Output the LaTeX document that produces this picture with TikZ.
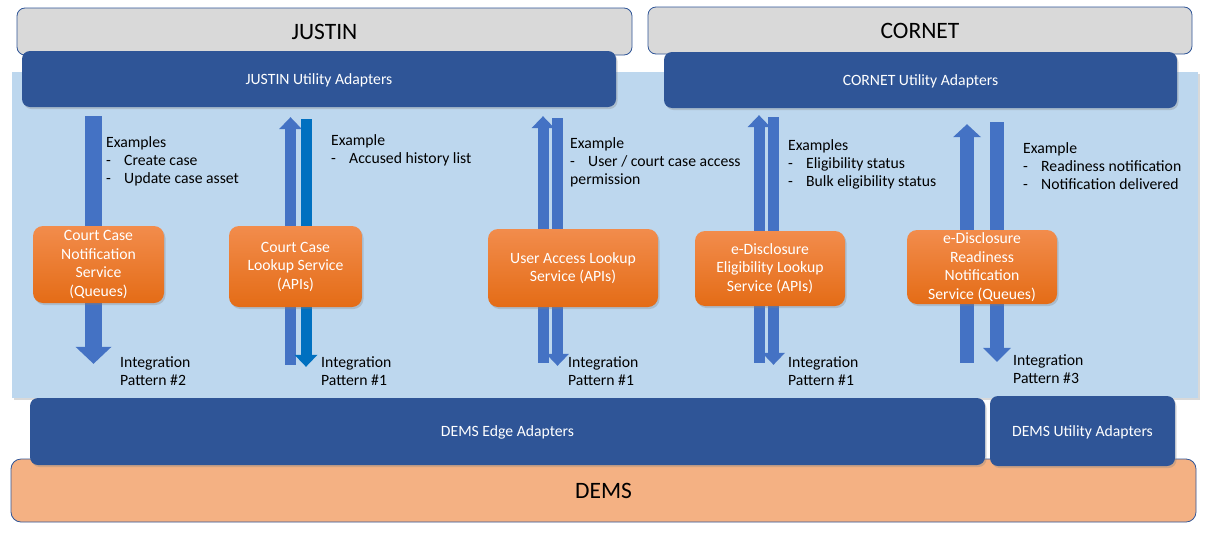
\documentclass[tikz,border=0pt]{standalone}
\usepackage{fontspec}
\setmainfont{Carlito}
\usepackage{xcolor}
\usetikzlibrary{arrows.meta,positioning,shadows,calc}
\definecolor{sysfill}{HTML}{D9D9D9}
\definecolor{sysline}{HTML}{2F5597}
\definecolor{adapterblue}{HTML}{2F5597}
\definecolor{zoneblue}{HTML}{BDD7EE}
\definecolor{demsfill}{HTML}{F4B183}
\definecolor{flowblue}{HTML}{4472C4}
\definecolor{flowdark}{HTML}{0070C0}
\definecolor{svctop}{RGB}{242,140,76}
\definecolor{svcbot}{RGB}{228,108,22}
\newcommand{\itm}{\makebox[18pt][l]{-}}
\tikzset{
	softshadow/.style={drop shadow={shadow xshift=1.5pt,shadow yshift=-2pt,opacity=0.3}},
	system/.style={draw=sysline,line width=0.8pt,fill=sysfill,rounded corners=8pt,inner sep=0pt,font=\fontsize{23.5}{27}\selectfont},
	adapter/.style={fill=adapterblue,rounded corners=8pt,inner sep=0pt,text=white,text depth=0pt,softshadow,font=\fontsize{15.7}{18}\selectfont},
	service/.style={top color=svctop,bottom color=svcbot,rounded corners=10pt,inner sep=0pt,text=white,align=center,softshadow,font=\fontsize{15.7}{18.5}\selectfont},
	note/.style={anchor=base west,align=left,inner sep=0pt,font=\fontsize{15.7}{18}\selectfont},
	upflow/.style={draw=flowblue,line width=11pt,-{Triangle[length=12pt,width=23pt,line width=0pt]}},
	downflow/.style={draw=flowblue,line width=11pt,-{Triangle[length=12pt,width=23pt,line width=0pt]}},
}
\begin{document}
\begin{tikzpicture}[x=1pt,y=-1pt]
	\useasboundingbox (0,0) rectangle (1209,533);
	% source and target systems
	\node[system,minimum width=615,minimum height=47] (justin) at (324.5,31.5) {JUSTIN};
	\node[system,minimum width=544,minimum height=47] (cornet) at (920,30.5) {CORNET};
	\node[system,fill=demsfill,rounded corners=10pt,minimum width=1185,minimum height=63] (dems) at (603.5,490.5) {DEMS};
	\node[fill=zoneblue,inner sep=0pt,minimum width=1186,minimum height=326,softshadow] (zone) at (605,235) {};
	% adapters
	\node[adapter,minimum width=594,minimum height=56] (jua) at (319,79) {JUSTIN Utility Adapters};
	\node[adapter,minimum width=513,minimum height=56] (cua) at (920.5,80) {CORNET Utility Adapters};
	\node[adapter,minimum width=955,minimum height=67] (edge) at (507.5,431.5) {DEMS Edge Adapters};
	\node[adapter,minimum width=185,minimum height=70] (dua) at (1082.5,431) {DEMS Utility Adapters};
	% service positions
	\coordinate (s1) at (98.5,264.5);
	\coordinate (s2) at (295.5,266.5);
	\coordinate (s3) at (573,268);
	\coordinate (s4) at (770,268.5);
	\coordinate (s5) at (982,267);
	% flows
	\draw[downflow,line width=17pt,-{Triangle[length=17pt,width=36pt,line width=0pt]},shorten <=9pt,shorten >=34pt] ([xshift=-5pt]s1 |- jua.south) -- ([xshift=-5pt]s1 |- edge.north);
	\draw[upflow,shorten <=33pt,shorten >=10pt] ([xshift=-5pt]s2 |- edge.north) -- ([xshift=-5pt]s2 |- jua.south);
	\draw[downflow,draw=flowdark,shorten <=12pt,shorten >=31pt] ([xshift=10.5pt]s2 |- jua.south) -- ([xshift=10.5pt]s2 |- edge.north);
	\draw[upflow,shorten <=35pt,shorten >=9pt] ([xshift=-30pt]s3 |- edge.north) -- ([xshift=-30pt]s3 |- jua.south);
	\draw[downflow,shorten <=11pt,shorten >=32pt] ([xshift=-15.5pt]s3 |- jua.south) -- ([xshift=-15.5pt]s3 |- edge.north);
	\draw[upflow,shorten <=35pt,shorten >=7pt] ([xshift=-11pt]s4 |- edge.north) -- ([xshift=-11pt]s4 |- cua.south);
	\draw[downflow,shorten <=9pt,shorten >=33pt] ([xshift=3.5pt]s4 |- cua.south) -- ([xshift=3.5pt]s4 |- edge.north);
	\draw[upflow,line width=14pt,-{Triangle[length=13pt,width=28pt,line width=0pt]},shorten <=35pt,shorten >=16pt] ([xshift=-15pt]s5 |- edge.north) -- ([xshift=-15pt]s5 |- cua.south);
	\draw[downflow,line width=14pt,-{Triangle[length=14pt,width=28pt,line width=0pt]},shorten <=14pt,shorten >=36pt] ([xshift=15pt]s5 |- cua.south) -- ([xshift=15pt]s5 |- edge.north);
	% services
	\node[service,minimum width=131,minimum height=77] (sv1) at (s1) {Court Case\\Notification\\Service\\(Queues)};
	\node[service,minimum width=133,minimum height=81] (sv2) at (s2) {Court Case\\Lookup Service\\(APIs)};
	\node[service,minimum width=170,minimum height=78] (sv3) at (s3) {User Access Lookup\\Service (APIs)};
	\node[service,minimum width=150,minimum height=75] (sv4) at (s4) {e-Disclosure\\Eligibility Lookup\\Service (APIs)};
	\node[service,minimum width=150,minimum height=74] (sv5) at (s5) {e-Disclosure\\Readiness\\Notification\\Service (Queues)};
	% examples (anchored on the last line)
	\node[note] (ex1) at (106,183) {Examples\\\itm Create case\\\itm Update case asset};
	\node[note] (ex2) at (331,163) {Example\\\itm Accused history list};
	\node[note] (ex3) at (570,184) {Example\\\itm User / court case access\\permission};
	\node[note] (ex4) at (788,186) {Examples\\\itm Eligibility status\\\itm Bulk eligibility status};
	\node[note] (ex5) at (1023,189) {Example\\\itm Readiness notification\\\itm Notification delivered};
	% patterns
	\node[note] (ip1) at (120,385) {Integration\\Pattern \#2};
	\node[note] (ip2) at (321,385) {Integration\\Pattern \#1};
	\node[note] (ip3) at (568,385) {Integration\\Pattern \#1};
	\node[note] (ip4) at (788,385) {Integration\\Pattern \#1};
	\node[note] (ip5) at (1013,383) {Integration\\Pattern \#3};
\end{tikzpicture}
\end{document}
